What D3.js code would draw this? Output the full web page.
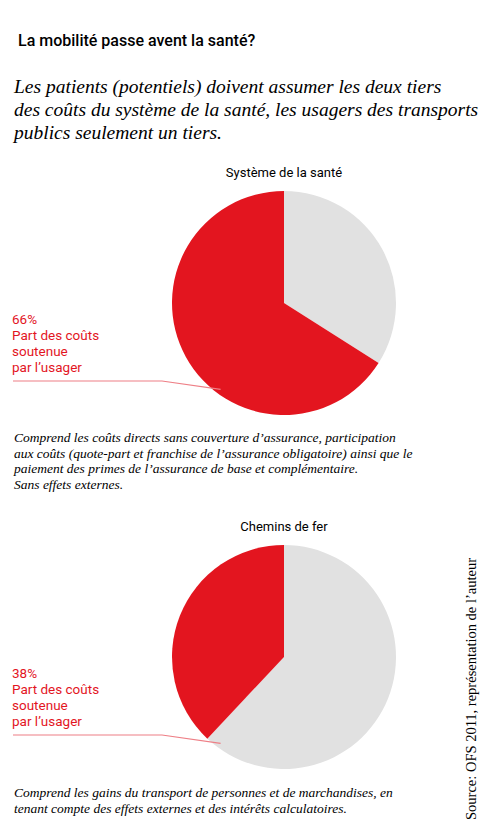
<!DOCTYPE html>
<html><head><meta charset="utf-8">
<script src="https://cdn.jsdelivr.net/npm/d3@7"></script>
<style>body{margin:0;background:#fff}</style>
</head><body>
<script>
// data
const pieTitles = ['Système de la santé', 'Chemins de fer'];
const userShare = [66, 38]; // part des coûts soutenue par l'usager (%)
const labelLines = ['Part des coûts', 'soutenue', 'par l\u2019usager'];
const notes = [
  ['Comprend les coûts directs sans couverture d\u2019assurance, participation',
   'aux coûts (quote-part et franchise de l\u2019assurance obligatoire) ainsi que le',
   'paiement des primes de l\u2019assurance de base et complémentaire.',
   'Sans effets externes.'],
  ['Comprend les gains du transport de personnes et de marchandises, en',
   'tenant compte des effets externes et des intérêts calculatoires.']
];
const intro = ['Les patients (potentiels) doivent assumer les deux tiers',
  'des coûts du système de la santé, les usagers des transports',
  'publics seulement un tiers.'];

const red = '#e3151f', grey = '#e1e1e1';
const sans = 'Roboto, "DejaVu Sans", sans-serif';
const serif = '"Liberation Serif", "DejaVu Serif", serif';

const svg = d3.select('body').append('svg')
  .attr('width', 487).attr('height', 830);

svg.append('text').text('La mobilité passe avent la santé?')
  .attr('x', 18).attr('y', 46)
  .attr('font-family', sans).attr('font-size', 16).attr('font-weight', 500);

svg.append('g').selectAll('text').data(intro).enter().append('text')
  .text(d => d)
  .attr('x', 14).attr('y', (d, i) => 93 + i * 23)
  .attr('font-family', serif).attr('font-style', 'italic').attr('font-size', 19.5);

const centers = [303, 657];
const noteY = [442, 797];
const R = 112, cx = 284;

userShare.forEach((v, k) => {
  const cy = centers[k];
  const g = svg.append('g').attr('transform', `translate(${cx},${cy})`);
  const pie = d3.pie().sort(null)([100 - v, v]);
  const arc = d3.arc().innerRadius(0).outerRadius(R);
  g.selectAll('path').data(pie).enter().append('path')
    .attr('d', arc).attr('fill', (d, i) => i ? red : grey);

  svg.append('text').text(pieTitles[k])
    .attr('x', cx).attr('y', cy - R - 14).attr('text-anchor', 'middle')
    .attr('font-family', sans).attr('font-size', 13);

  // leader line to red slice edge
  const ang = Math.PI * 1.22;
  const ex = cx + R * Math.sin(ang) + 8, ey = cy - R * Math.cos(ang);
  const ly = cy + 78;
  svg.append('polyline')
    .attr('points', `13,${ly} 162,${ly} ${ex},${ey}`)
    .attr('fill', 'none').attr('stroke', '#ee7f86').attr('stroke-width', 1.2);

  const lab = svg.append('g');
  [v + '%'].concat(labelLines).forEach((t, i) => {
    lab.append('text').text(t)
      .attr('x', 12).attr('y', ly - 57 + i * 16)
      .attr('fill', red).attr('font-family', sans).attr('font-size', 13.5);
  });

  svg.append('g').selectAll('text').data(notes[k]).enter().append('text')
    .text(d => d)
    .attr('x', 14).attr('y', (d, i) => noteY[k] + i * 15.5)
    .attr('font-family', serif).attr('font-style', 'italic').attr('font-size', 13.5);
});

svg.append('text').text('Source: OFS 2011, représentation de l\u2019auteur')
  .attr('transform', 'translate(476,820) rotate(-90)')
  .attr('font-family', serif).attr('font-size', 14.5);
</script>
</body></html>
